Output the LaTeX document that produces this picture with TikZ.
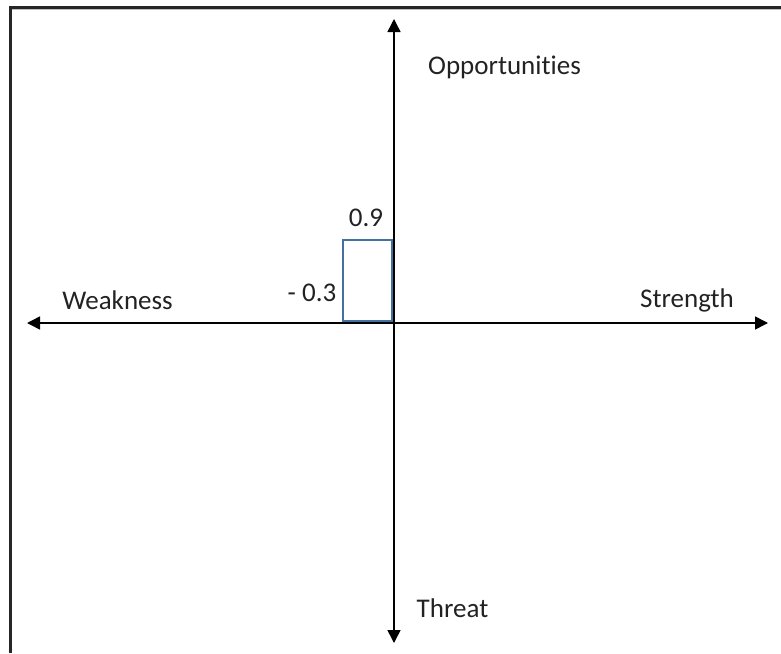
\documentclass[tikz,border=0pt]{standalone}
\usepackage{fontspec}
\setmainfont[Ligatures=NoCommon]{Carlito}
\usetikzlibrary{arrows.meta}
\definecolor{rectblue}{HTML}{41719C}
\definecolor{txt}{HTML}{222222}
\tikzset{
  axis/.style={line width=1.5pt, black, -{Triangle[length=13pt,width=13pt]}},
  frameline/.style={line width=3pt, black!85},
  lbl/.style={anchor=base, inner sep=0pt, text=txt, font=\fontsize{27}{32}\selectfont},
  box/.style={draw=rectblue, line width=1.6pt}
}
\begin{document}
\begin{tikzpicture}[x=1pt,y=-1pt]
\useasboundingbox (0,0) rectangle (781,653);
% frame (left and top)
\draw[black!25, line width=1pt] (12,9.8) -- (781,9.8);
\draw[frameline] (10.5,653) -- (10.5,7) -- (781,7);
% center
\coordinate (O) at (394,323);
\coordinate (L) at (27,323);
\coordinate (R) at (768,323);
\coordinate (T) at (394,19);
\coordinate (B) at (394,643);
\draw[axis] (O) -- (L);
\draw[axis] (O) -- (R);
\draw[axis] (O) -- (T);
\draw[axis] (O) -- (B);
% rectangle
\node[box, minimum width=49pt, minimum height=81pt, anchor=south east, inner sep=0pt] (rect) at (393,322) {};
% labels
\node[lbl] (opp) at (504.5,74) {Opportunities};
\node[lbl] (nine) at (366,226) {0.9};
\node[lbl] (three) at (312,301) {- 0.3};
\node[lbl] (weak) at (117.5,309) {Weakness};
\node[lbl] (str) at (687,307) {Strength};
\node[lbl] (thr) at (452.5,617) {Threat};
\end{tikzpicture}
\end{document}
